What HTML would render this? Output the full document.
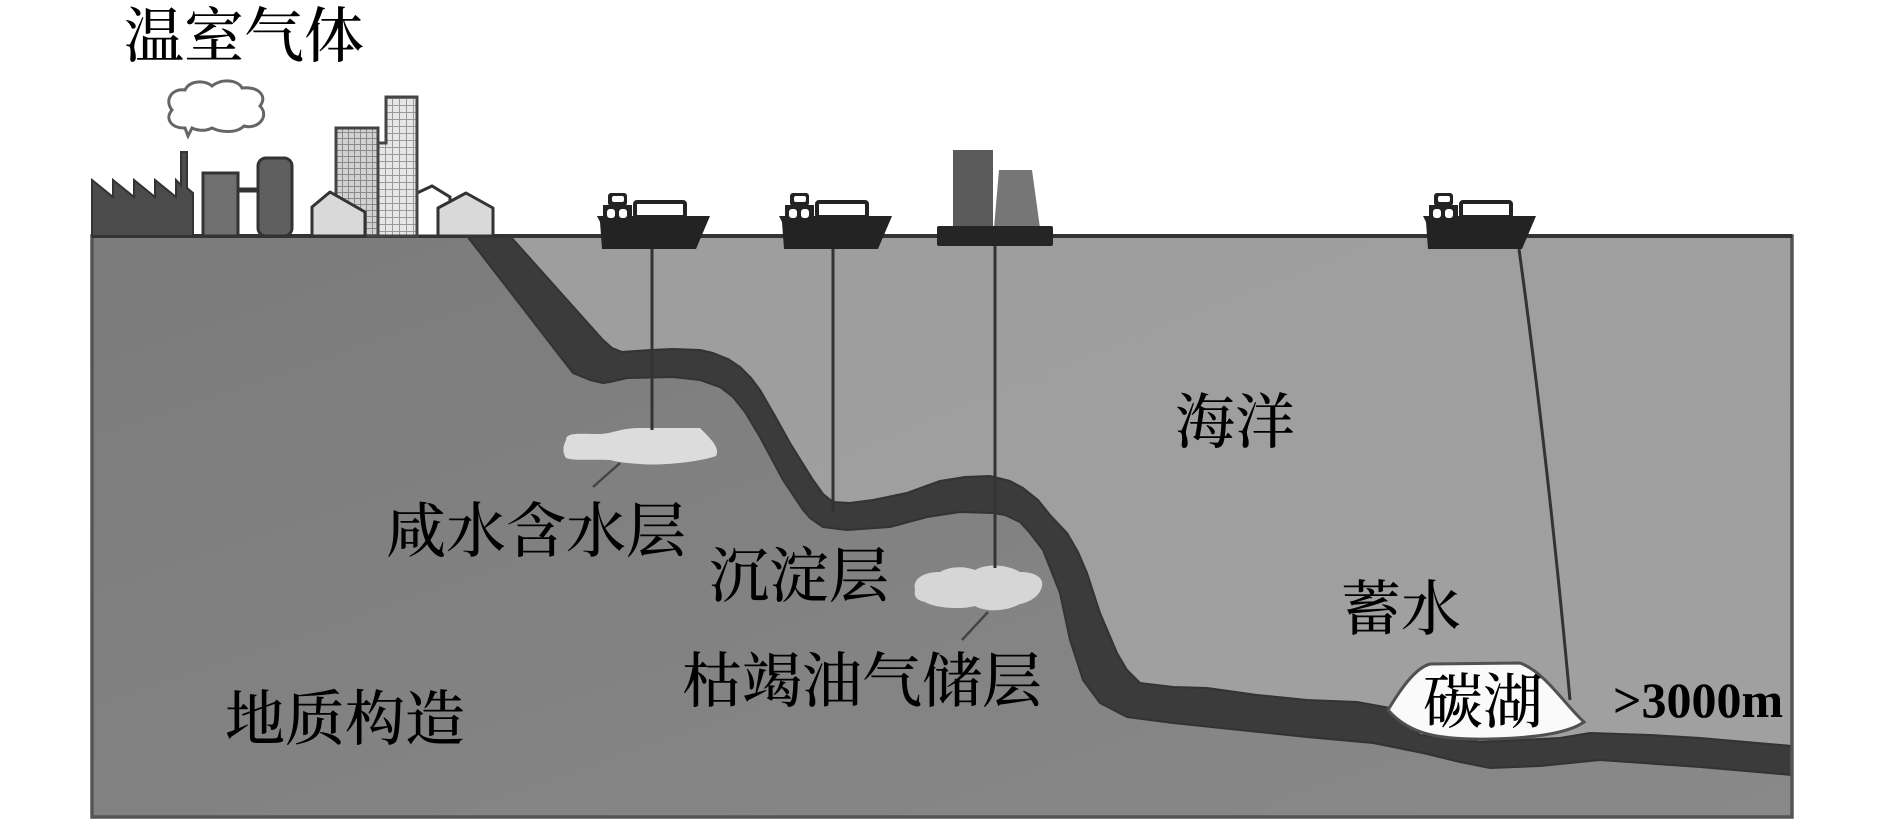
<!DOCTYPE html>
<html><head><meta charset="utf-8"><style>
html,body{margin:0;padding:0;background:#fff;}
svg{display:block;}
.t{font-family:"Liberation Serif","Noto Serif CJK SC","Noto Serif CJK JP","Noto Sans CJK SC",serif;font-weight:500;font-size:60px;fill:#000;}
.n{font-family:"Liberation Serif",serif;font-weight:700;font-size:50px;fill:#000;}
</style></head><body>
<svg width="1890" height="827" viewBox="0 0 1890 827" xmlns="http://www.w3.org/2000/svg">
<defs>
<pattern id="gA" width="6" height="6" patternUnits="userSpaceOnUse"><rect width="6" height="6" fill="#d2d2d2"/><path d="M0 0.5H6M0.5 0V6" stroke="#8a8a8a" stroke-width="1"/></pattern>
<pattern id="gB" width="7" height="7" patternUnits="userSpaceOnUse"><rect width="7" height="7" fill="#e6e6e6"/><path d="M0 0.5H7M0.5 0V7" stroke="#9a9a9a" stroke-width="1"/></pattern>
<linearGradient id="land" x1="0" y1="0" x2="1" y2="1"><stop offset="0" stop-color="#7b7b7b"/><stop offset="1" stop-color="#898989"/></linearGradient>
<linearGradient id="sea" x1="0" y1="0" x2="1" y2="1"><stop offset="0" stop-color="#9e9e9e"/><stop offset="1" stop-color="#a0a0a0"/></linearGradient>
</defs>
<rect width="1890" height="827" fill="#fff"/>

<!-- land box -->
<rect x="92" y="236" width="1700" height="581" fill="url(#land)"/>
<!-- ocean -->
<polygon fill="url(#sea)" points="510,236 603,340 612,348 622,352 650,350 673,349 700,350 713,353 728,359 740,367 751,378 760,390 775,416 790,443 813,480 823,494 833,502 850,503 873,500 907,493 940,481 965,477 990,476 1010,481 1023,488 1038,500 1050,515 1067,533 1078,552 1087,573 1100,613 1117,653 1127,670 1140,683 1173,687 1207,688 1257,695 1307,700 1357,702 1390,708 1420,735 1480,742 1560,738 1590,733 1650,735 1700,738 1792,746 1792,236"/>
<!-- band -->
<polygon fill="#3b3b3b" stroke="#333" stroke-width="2" stroke-linejoin="round" points="510,236 603,340 612,348 622,352 650,350 673,349 700,350 713,353 728,359 740,367 751,378 760,390 775,416 790,443 813,480 823,494 833,502 850,503 873,500 907,493 940,481 965,477 990,476 1010,481 1023,488 1038,500 1050,515 1067,533 1078,552 1087,573 1100,613 1117,653 1127,670 1140,683 1173,687 1207,688 1257,695 1307,700 1357,702 1390,708 1420,735 1480,742 1560,738 1590,733 1650,735 1700,738 1792,746 1792,775 1700,767 1600,760 1540,766 1490,768 1460,762 1423,753 1373,743 1307,737 1240,730 1173,723 1127,717 1100,703 1083,680 1070,640 1060,593 1043,550 1030,533 1020,522 1005,515 993,513 960,512 927,517 890,527 847,530 823,527 810,518 803,510 783,480 760,437 745,412 733,397 720,387 700,380 673,377 627,378 610,382 603,383 590,380 573,373 467,236"/>

<!-- blobs -->
<path d="M566,440 C566,432 580,434 600,434 C615,433 620,428 640,428 L700,428 C712,440 720,448 716,456 C700,462 660,466 640,464 C625,463 618,462 610,460 C590,459 575,461 566,458 C562,452 563,446 566,440 Z" fill="#dcdcdc"/>
<line x1="620" y1="463" x2="593" y2="487" stroke="#444" stroke-width="2.5"/>
<path d="M915,590 C912,578 925,572 940,572 C950,566 965,566 975,570 C990,562 1010,566 1020,572 C1032,572 1044,576 1042,586 C1040,596 1030,602 1020,604 C1005,612 985,612 975,606 C960,610 935,608 925,602 C915,600 914,595 915,590 Z" fill="#d6d6d6"/>
<line x1="988" y1="612" x2="962" y2="640" stroke="#444" stroke-width="2.5"/>

<!-- pipes -->
<line x1="652" y1="249" x2="652" y2="430" stroke="#333" stroke-width="3"/>
<line x1="833" y1="249" x2="833" y2="512" stroke="#333" stroke-width="3"/>
<line x1="995" y1="246" x2="995" y2="568" stroke="#333" stroke-width="3"/>
<path d="M1519,249 Q1548,460 1570,700" fill="none" stroke="#333" stroke-width="3"/>

<!-- carbon lake -->
<path d="M1388,710 C1400,690 1415,668 1430,664 L1520,663 C1545,672 1565,705 1584,722 C1570,732 1540,738 1490,739 C1440,740 1410,735 1388,710 Z" fill="#fafafa" stroke="#505050" stroke-width="3"/>

<!-- box border & surface -->
<rect x="92" y="236" width="1700" height="581" fill="none" stroke="#555" stroke-width="3.5"/>
<line x1="92" y1="236" x2="1792" y2="236" stroke="#333" stroke-width="4"/>

<!-- factory -->
<path d="M92,236 L92,180 L113,197 L113,180 L134,197 L134,180 L155,197 L155,180 L176,197 L176,180 L181,185 L181,152 L187,152 L187,188 L193,193 L193,236 Z" fill="#4b4b4b" stroke="#333" stroke-width="2"/>
<line x1="238" y1="190" x2="258" y2="190" stroke="#333" stroke-width="5"/>
<rect x="203" y="173" width="35" height="63" fill="#6f6f6f" stroke="#333" stroke-width="3"/>
<rect x="258" y="158" width="34" height="78" rx="8" fill="#5f5f5f" stroke="#333" stroke-width="3"/>

<!-- cloud -->
<path d="M185,128 C170,128 165,118 172,110 C164,100 172,88 185,90 C190,80 205,80 212,86 C222,78 238,80 242,88 C258,86 268,96 260,106 C270,116 258,130 244,126 C236,134 220,132 212,128 C204,132 196,130 192,128 L188,136 L185,128 Z" fill="#fff" stroke="#666" stroke-width="3"/>

<!-- buildings -->
<path d="M417,236 L417,193 L432,186 L450,197 L450,236 Z" fill="#fff" stroke="#333" stroke-width="3"/>
<rect x="336" y="128" width="42" height="108" fill="url(#gA)" stroke="#444" stroke-width="3"/>
<path d="M386,97 L417,97 L417,236 L378,236 L378,143 L386,143 Z" fill="url(#gB)" stroke="#444" stroke-width="3"/>
<path d="M312,236 L312,207 L330,192 L365,212 L365,236 Z" fill="#d9d9d9" stroke="#333" stroke-width="3" stroke-linejoin="round"/>
<path d="M438,236 L438,208 L466,193 L493,208 L493,236 Z" fill="#d9d9d9" stroke="#333" stroke-width="3" stroke-linejoin="round"/>

<!-- ships -->
<g id="ship" fill="#232323">
<polygon points="597,216 710,216 696,249 602,249 600,222"/>
<rect x="603" y="205" width="29" height="14"/>
<rect x="608" y="193" width="19" height="13" rx="3"/>
<rect x="635" y="202" width="50" height="15" fill="#fff" stroke="#232323" stroke-width="4" rx="2"/>
<rect x="607" y="209" width="8" height="9" rx="3" fill="#fff"/>
<rect x="619" y="209" width="8" height="9" rx="3" fill="#fff"/>
<rect x="612" y="196" width="12" height="6" rx="2" fill="#fff"/>
</g>
<use href="#ship" x="182" y="0"/>
<use href="#ship" x="826" y="0"/>

<!-- platform -->
<rect x="953" y="150" width="40" height="78" fill="#5a5a5a"/>
<polygon points="999,170 1032,170 1040,228 994,228" fill="#767676"/>
<rect x="937" y="226" width="116" height="20" fill="#252525" rx="2"/>

<!-- labels -->
<text class="t" x="124" y="57">温室气体</text>
<text class="t" x="1175" y="443">海洋</text>
<text class="t" x="386" y="552">咸水含水层</text>
<text class="t" x="709" y="597">沉淀层</text>
<text class="t" x="682" y="702">枯竭油气储层</text>
<text class="t" x="225" y="740">地质构造</text>
<text class="t" x="1341" y="630">蓄水</text>
<text class="t" x="1423" y="723">碳湖</text>
<text class="n" x="1613" y="717">&gt;3000m</text>
</svg>
</body></html>
